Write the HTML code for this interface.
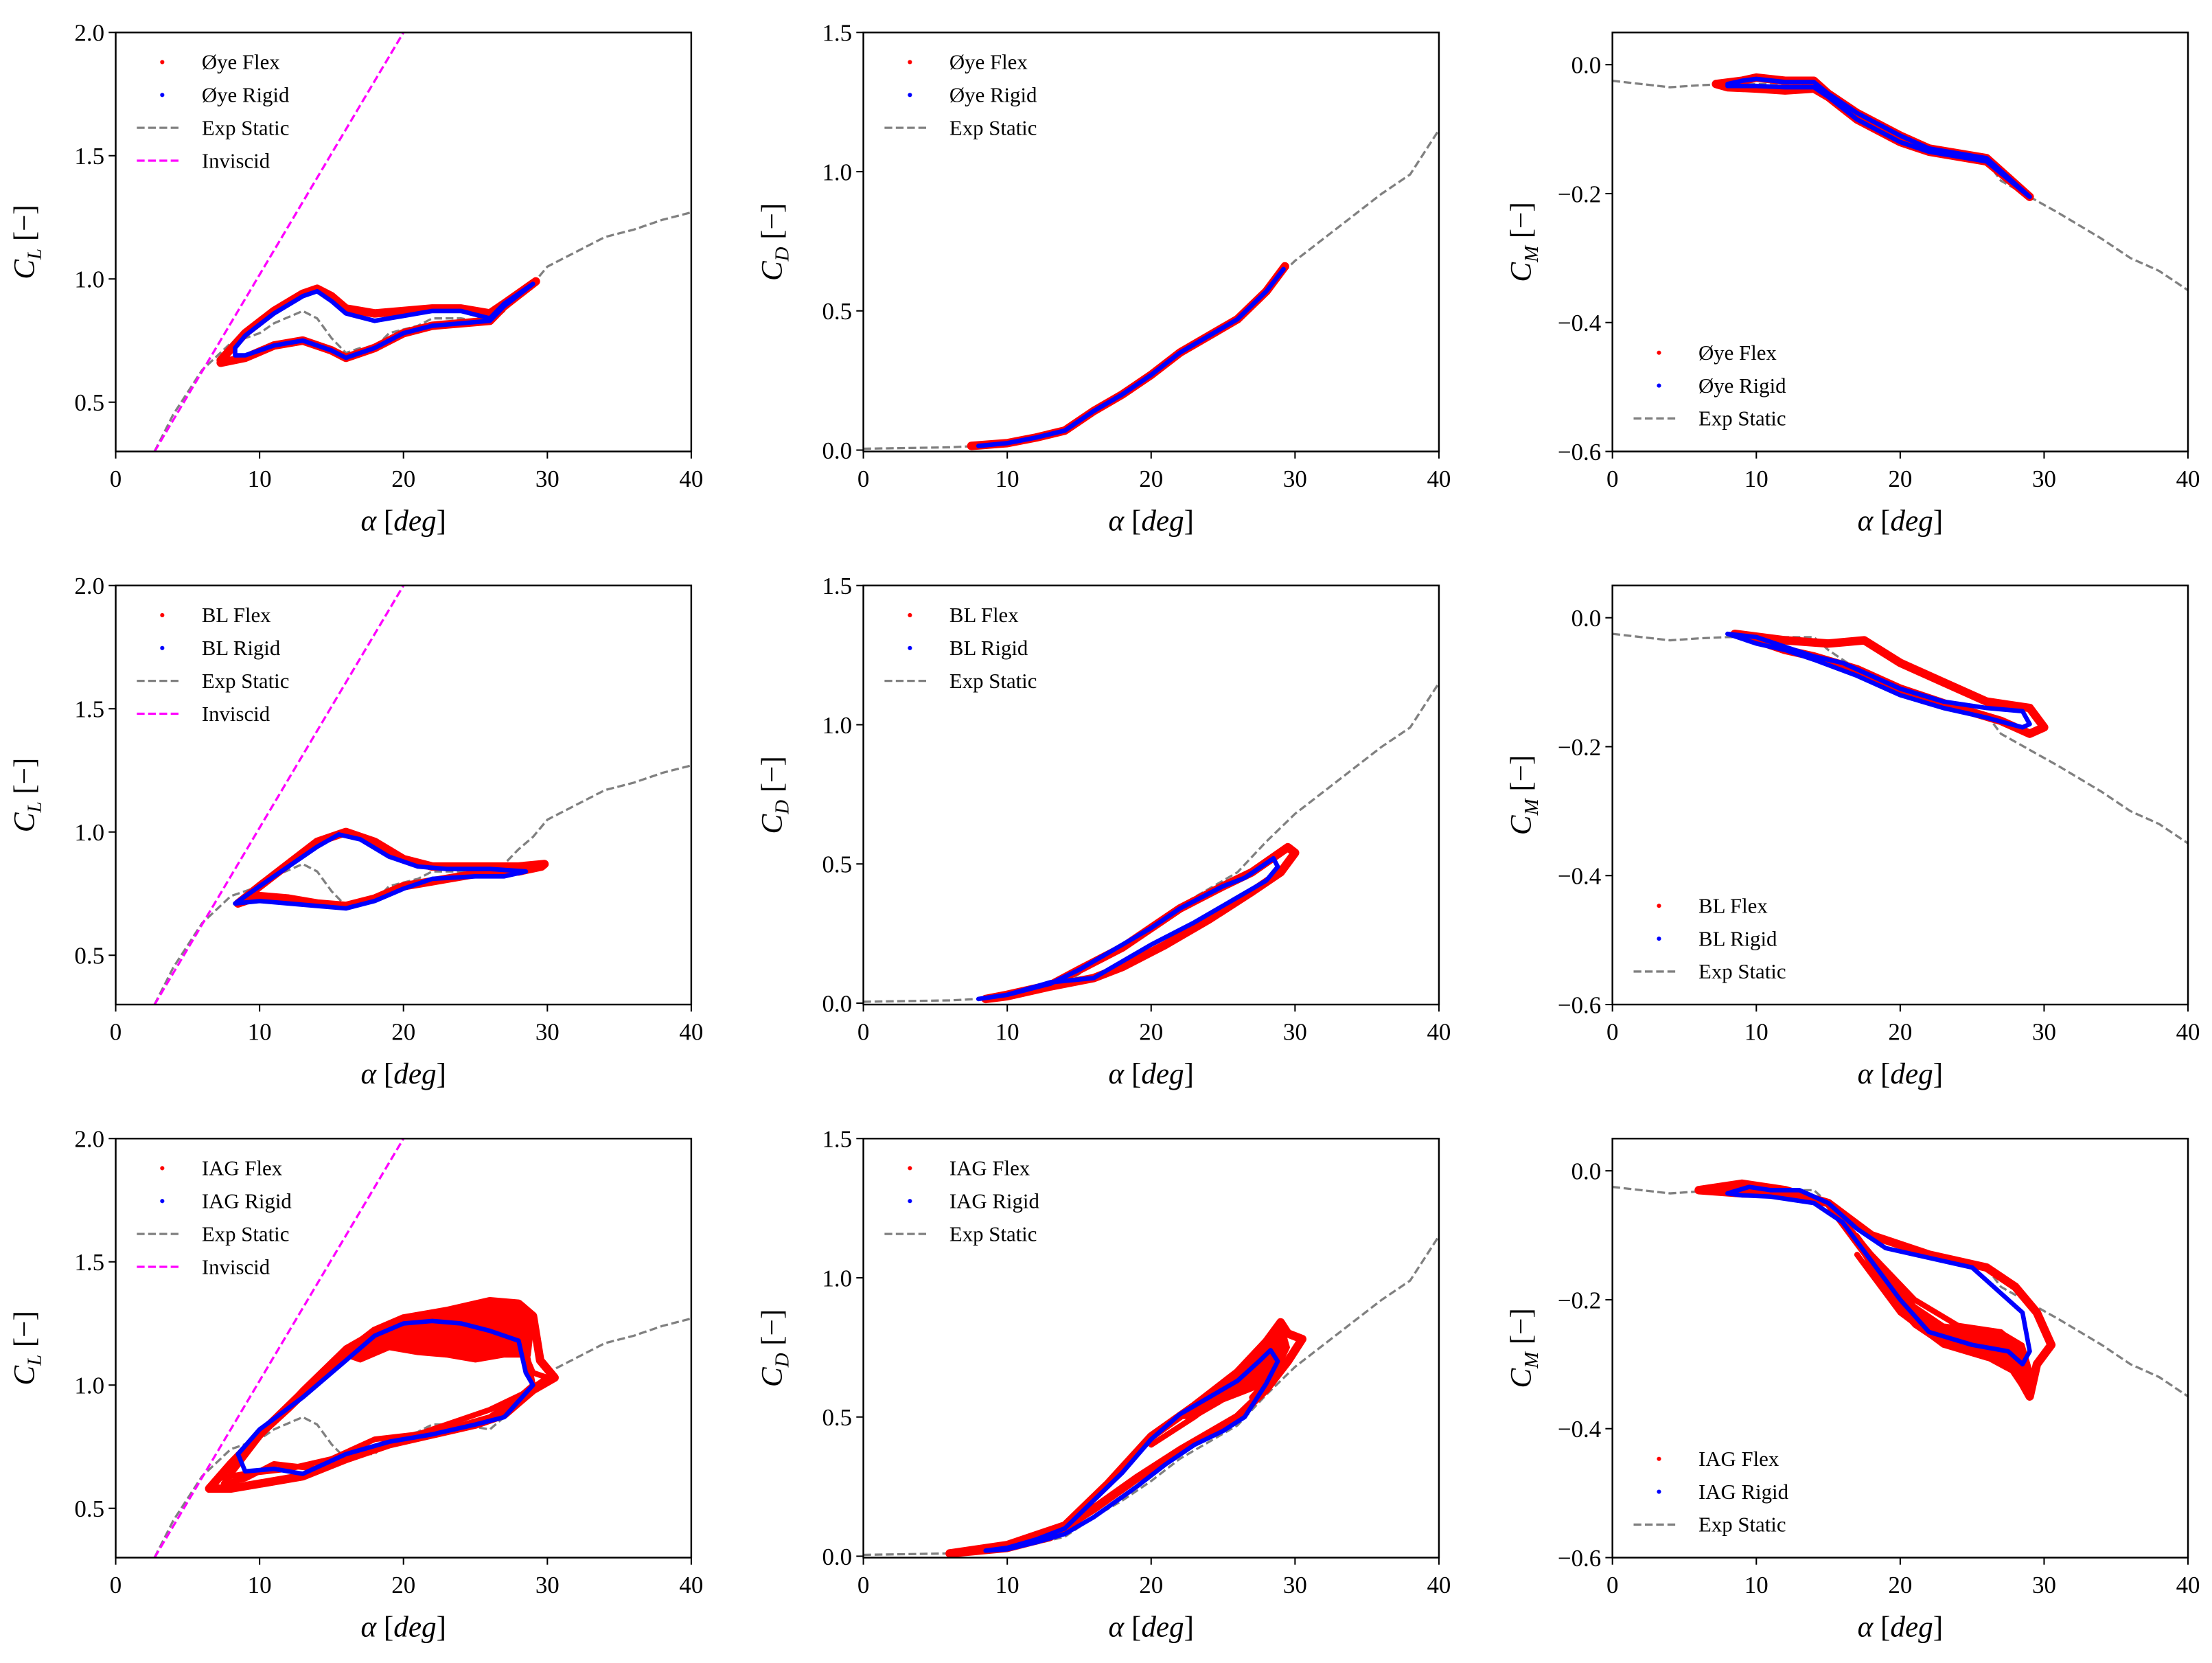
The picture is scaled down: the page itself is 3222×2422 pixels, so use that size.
<!DOCTYPE html>
<html><head><meta charset="utf-8"><style>
html,body{margin:0;padding:0;background:#fff;}
svg{display:block;}
text{font-family:"Liberation Serif","DejaVu Serif",serif;fill:#000;}
</style></head><body>
<svg id="fig" width="3222" height="2422" viewBox="0 0 1568 1178.7" xmlns="http://www.w3.org/2000/svg"></svg>
<script>
// ---- data (alpha deg, coefficient) ----
const staticCL=[[2.7,0.3],[4,0.45],[6,0.63],[8,0.74],[10,0.78],[11,0.82],[13,0.87],[14,0.84],[15,0.76],[16,0.7],[17,0.72],[18,0.72],[19,0.78],[21,0.81],[22,0.84],[24,0.84],[26,0.82],[27,0.87],[28,0.93],[29,0.98],[30,1.05],[32,1.11],[34,1.17],[36,1.2],[38,1.24],[40,1.27]];
const invCL=[[2.7,0.3],[20,2.0]];
const staticCD=[[0,0.005],[6,0.01],[8,0.015],[10,0.025],[12,0.045],[14,0.07],[16,0.14],[18,0.2],[20,0.27],[22,0.35],[24,0.41],[26,0.47],[28,0.58],[30,0.68],[32,0.76],[34,0.84],[36,0.92],[38,0.99],[40,1.15]];
const staticCM=[[0,-0.025],[2,-0.03],[4,-0.035],[6,-0.032],[8,-0.03],[10,-0.03],[12,-0.03],[14,-0.03],[15,-0.05],[17,-0.08],[18,-0.1],[20,-0.115],[22,-0.13],[24,-0.14],[26,-0.15],[27,-0.18],[29,-0.205],[31,-0.23],[34,-0.27],[36,-0.3],[38,-0.32],[40,-0.35]];

const oyeCLflex=[[7.3,0.67],[9,0.78],[11,0.87],[13,0.94],[14,0.96],[15,0.93],[16,0.88],[18,0.86],[20,0.87],[22,0.88],[24,0.88],[26,0.86],[27,0.9],[29.2,0.99],[27,0.89],[26,0.83],[24,0.82],[22,0.81],[20,0.78],[18,0.72],[16,0.68],[15,0.71],[13,0.75],[11,0.73],[9,0.68],[7.3,0.66]];
const oyeCLrigid=[[8.3,0.72],[9,0.77],[11,0.86],[13,0.93],[14,0.95],[15,0.91],[16,0.86],[18,0.83],[20,0.85],[22,0.87],[24,0.87],[26,0.84],[27,0.9],[29,0.98],[27,0.89],[26,0.83],[24,0.82],[22,0.81],[20,0.78],[18,0.72],[16,0.68],[15,0.71],[13,0.75],[11,0.73],[9,0.69],[8.3,0.69],[8.3,0.72]];
const oyeCDflex=[[7.5,0.015],[10,0.025],[12,0.045],[14,0.07],[16,0.14],[18,0.2],[20,0.27],[22,0.35],[24,0.41],[26,0.47],[28,0.57],[29.3,0.66]];
const oyeCDrigid=[[8,0.015],[10,0.025],[12,0.045],[14,0.07],[16,0.14],[18,0.2],[20,0.27],[22,0.35],[24,0.41],[26,0.47],[28,0.57],[29.2,0.65]];
const oyeCMflex=[[7.2,-0.03],[9,-0.025],[10,-0.02],[12,-0.025],[14,-0.025],[15,-0.045],[17,-0.075],[20,-0.11],[22,-0.13],[26,-0.145],[29,-0.205],[26,-0.15],[22,-0.135],[20,-0.12],[17,-0.085],[15,-0.05],[14,-0.037],[12,-0.04],[10,-0.037],[8,-0.035],[7.2,-0.03]];
const oyeCMrigid=[[8,-0.03],[9,-0.025],[10,-0.022],[12,-0.027],[14,-0.027],[15,-0.045],[17,-0.075],[20,-0.11],[22,-0.13],[26,-0.145],[29,-0.205],[26,-0.15],[22,-0.135],[20,-0.12],[17,-0.085],[15,-0.05],[14,-0.035],[12,-0.035],[10,-0.033],[8,-0.033]];

const blCLflex=[[8.5,0.71],[10,0.78],[12,0.87],[14,0.96],[16,1.0],[18,0.96],[20,0.89],[22,0.86],[25,0.86],[28,0.86],[29.8,0.87],[29.6,0.86],[28,0.84],[26,0.84],[23,0.81],[20,0.78],[18,0.73],[16,0.7],[14,0.71],[12,0.73],[10,0.74],[8.5,0.71]];
const blCLrigid=[[8.3,0.71],[10,0.78],[12,0.86],[14,0.94],[15.5,0.99],[17,0.97],[19,0.9],[21,0.86],[23,0.85],[26,0.85],[28.5,0.84],[27,0.82],[25,0.82],[22,0.81],[20,0.77],[18,0.72],[16,0.69],[14,0.7],[12,0.71],[10,0.72],[8.3,0.71]];
const blCDflex=[[8.5,0.015],[10,0.03],[13,0.065],[15,0.12],[18,0.2],[20,0.27],[22,0.34],[25,0.42],[27,0.47],[29.5,0.56],[30,0.54],[29,0.47],[27,0.4],[24,0.3],[21,0.21],[18,0.13],[16,0.09],[13,0.06],[10,0.025],[8.5,0.015]];
const blCDrigid=[[8,0.015],[10,0.03],[13,0.07],[15,0.12],[18,0.21],[20,0.27],[22,0.34],[25,0.42],[26.5,0.45],[28.5,0.52],[28.8,0.49],[28,0.44],[26,0.38],[23,0.29],[20,0.21],[17,0.12],[16,0.09],[13,0.075],[10,0.03],[8,0.015]];
const blCMflex=[[8.5,-0.025],[12,-0.035],[15,-0.04],[17.5,-0.035],[20,-0.07],[23,-0.1],[26,-0.13],[29,-0.14],[30,-0.17],[29,-0.18],[27,-0.16],[24,-0.14],[20,-0.11],[17,-0.08],[14,-0.06],[12,-0.05],[10,-0.035],[8.5,-0.025]];
const blCMrigid=[[8,-0.025],[10,-0.03],[12,-0.045],[14,-0.06],[16,-0.07],[18,-0.09],[20,-0.11],[23,-0.13],[26,-0.14],[28.5,-0.145],[29,-0.165],[28.5,-0.17],[26,-0.155],[23,-0.14],[20,-0.12],[17,-0.09],[14,-0.065],[12,-0.05],[10,-0.04],[8,-0.025]];

const iagCLflex1=[[6.5,0.58],[8,0.68],[10,0.8],[13,0.97],[16,1.13],[18,1.22],[20,1.27],[23,1.3],[26,1.34],[28,1.33],[29,1.28],[29.5,1.1],[30.5,1.03],[29,0.98],[27,0.88],[25,0.84],[22,0.8],[19,0.76],[16,0.7],[13,0.63],[10,0.6],[8,0.58],[6.5,0.58]];
const iagCLflex2=[[7,0.62],[9,0.74],[12,0.9],[15,1.07],[18,1.18],[21,1.22],[24,1.2],[27,1.17],[28.5,1.12],[29,1.05],[30,1.03],[28.5,0.97],[26,0.9],[24,0.86],[21,0.8],[18,0.78],[15,0.7],[12,0.66],[9,0.64],[7,0.62]];
const iagCLflex3=[[7.5,0.6],[10,0.79],[13,0.98],[16,1.15],[19,1.25],[22,1.28],[25,1.3],[27.5,1.28],[28.5,1.15],[29,1.0],[28,0.95],[26,0.87],[23,0.82],[20,0.79],[17,0.73],[14,0.66],[11,0.68],[9,0.62],[7.5,0.6]];
const iagCLband=[[16,1.12],[18,1.21],[20,1.26],[23,1.29],[26,1.33],[28,1.33],[29,1.27],[28.7,1.12],[27,1.12],[25,1.1],[23,1.12],[21,1.13],[19,1.15],[17,1.1]];
const iagCLrigid=[[8.5,0.72],[10,0.82],[13,0.95],[16,1.1],[18,1.2],[20,1.25],[22,1.26],[24,1.25],[26,1.22],[28,1.18],[28.5,1.05],[29,1.0],[27,0.87],[25,0.84],[22,0.8],[19,0.77],[16,0.72],[13,0.64],[11,0.66],[9,0.65],[8.5,0.72]];
const iagCDflex1=[[6,0.01],[10,0.04],[14,0.11],[17,0.26],[20,0.43],[23,0.54],[26,0.66],[28,0.77],[29,0.84],[29.5,0.8],[30.5,0.78],[29.5,0.7],[28,0.6],[26,0.5],[24,0.44],[22,0.38],[19,0.28],[16,0.17],[13,0.07],[10,0.03],[6,0.01]];
const iagCDflex2=[[20,0.4],[23,0.5],[26,0.62],[27.5,0.72],[28.5,0.8],[29,0.7],[28,0.63],[27,0.57]];
const iagCDband=[[22,0.5],[26,0.64],[28,0.76],[29,0.84],[29.5,0.75],[28.5,0.64],[27,0.6],[25,0.56],[23,0.5]];
const iagCDrigid=[[8.5,0.02],[10,0.03],[12,0.06],[14,0.1],[16,0.2],[18,0.3],[20,0.42],[22,0.51],[24,0.57],[26,0.63],[27.5,0.7],[28.3,0.74],[28.8,0.7],[28,0.62],[26.5,0.5],[25,0.45],[23,0.4],[21,0.33],[19,0.25],[16,0.14],[14,0.08],[12,0.05],[10,0.025],[8.5,0.02]];
const iagCMflex1=[[6,-0.03],[9,-0.02],[12,-0.03],[15,-0.05],[17,-0.11],[19,-0.17],[21,-0.23],[23,-0.26],[25,-0.27],[27,-0.28],[28.5,-0.33],[29,-0.35],[29.5,-0.3],[30.5,-0.27],[29.5,-0.22],[28,-0.18],[26,-0.15],[22,-0.13],[18,-0.1],[15,-0.05],[12,-0.035],[9,-0.035],[6,-0.03]];
const iagCMflex2=[[15,-0.05],[18,-0.13],[21,-0.2],[24,-0.24],[27,-0.25],[28.5,-0.28],[29,-0.33],[28,-0.3],[26,-0.29],[23,-0.27],[20,-0.22],[17,-0.13]];
const iagCMband=[[17,-0.1],[19,-0.16],[21,-0.21],[23,-0.24],[27,-0.25],[28.5,-0.27],[29.3,-0.33],[28.5,-0.32],[26,-0.29],[23,-0.27],[21,-0.24],[19,-0.19],[17.5,-0.13]];
const iagCMrigid=[[8,-0.035],[9.5,-0.025],[11,-0.03],[13,-0.03],[15,-0.05],[17,-0.09],[19,-0.12],[22,-0.135],[25,-0.15],[27,-0.19],[28.5,-0.22],[29,-0.28],[28.5,-0.3],[27.5,-0.28],[25,-0.27],[22,-0.25],[20,-0.2],[18,-0.14],[16,-0.08],[14,-0.05],[11,-0.04],[9,-0.038],[8,-0.035]];

const xTicks=[0,10,20,30,40];
const clTicks=[0.5,1.0,1.5,2.0], clTickLabels=["0.5","1.0","1.5","2.0"];
const cdTicks=[0,0.5,1.0,1.5], cdTickLabels=["0.0","0.5","1.0","1.5"];
const cmTicks=[0,-0.2,-0.4,-0.6], cmTickLabels=["0.0","\u22120.2","\u22120.4","\u22120.6"];
const models=["Øye","BL","IAG"];

const NS="http://www.w3.org/2000/svg";
const svg=document.getElementById('fig');
function el(tag,attrs,parent){const e=document.createElementNS(NS,tag);for(const k in attrs)e.setAttribute(k,attrs[k]);(parent||svg).appendChild(e);return e;}

const colX=[82,612,1143], rowY=[23,415,807], W=408, H=297;
const ranges=[{y0:0.3,y1:2.0,ticks:clTicks,labs:clTickLabels,sub:"L"},{y0:-0.005,y1:1.5,ticks:cdTicks,labs:cdTickLabels,sub:"D"},{y0:-0.6,y1:0.05,ticks:cmTicks,labs:cmTickLabels,sub:"M"}];
const dataSets=[
 [[oyeCLflex],[oyeCLrigid],[]],[[oyeCDflex],[oyeCDrigid],[]],[[oyeCMflex],[oyeCMrigid],[]],
 [[blCLflex],[blCLrigid],[]],[[blCDflex],[blCDrigid],[]],[[blCMflex],[blCMrigid],[]],
 [[iagCLflex1,iagCLflex2,iagCLflex3],[iagCLrigid],[iagCLband]],[[iagCDflex1,iagCDflex2],[iagCDrigid],[iagCDband]],[[iagCMflex1,iagCMflex2],[iagCMrigid],[iagCMband]]];
const statics=[staticCL,staticCD,staticCM];

for(let r=0;r<3;r++)for(let c=0;c<3;c++){
  const x0=colX[c],y0=rowY[r],R=ranges[c];
  const sx=a=>x0+a/40*W;
  const sy=v=>y0+H-(v-R.y0)/(R.y1-R.y0)*H;
  const g=el('g',{});
  
  
  const clipId='clip'+r+c;
  const cp=el('clipPath',{id:clipId},g);el('rect',{x:x0,y:y0,width:W,height:H},cp);
  const plot=el('g',{'clip-path':'url(#'+clipId+')'},g);
  const pts=arr=>arr.map(p=>sx(p[0]).toFixed(2)+','+sy(p[1]).toFixed(2)).join(' ');
  const st=el('polyline',{points:pts(statics[c]),fill:'none',stroke:'#808080','stroke-width':1.6,'stroke-dasharray':'5.5,2.5'},plot);
  
  
  if(c===0){const iv=el('polyline',{points:pts(invCL),fill:'none',stroke:'#ff00ff','stroke-width':1.6,'stroke-dasharray':'5.5,2.5'},plot);
    
    }
  const ds=dataSets[r*3+c];
  ds[2].forEach(arr=>{const p=el('polygon',{points:pts(arr),fill:'#ff0000',stroke:'#ff0000','stroke-width':3,'stroke-linejoin':'round'},plot);
    
    });
  ds[0].forEach((arr,i)=>{const p=el('polyline',{points:pts(arr),fill:'none',stroke:'#ff0000','stroke-width':i===0?6:4,'stroke-linejoin':'round','stroke-linecap':'round'},plot);
    
    });
  ds[1].forEach(arr=>{const p=el('polyline',{points:pts(arr),fill:'none',stroke:'#0000ff','stroke-width':3.2,'stroke-linejoin':'round','stroke-linecap':'round'},plot);
    
    });
  el('rect',{x:x0,y:y0,width:W,height:H,fill:'none',stroke:'#000','stroke-width':1.2},g);
  xTicks.forEach(t=>{el('line',{x1:sx(t),x2:sx(t),y1:y0+H,y2:y0+H+5,stroke:'#000','stroke-width':1},g);
    const tx=el('text',{x:sx(t),y:y0+H+25,'text-anchor':'middle','font-size':17},g);tx.textContent=t;
    
    });
  R.ticks.forEach((t,i)=>{el('line',{x1:x0-5,x2:x0,y1:sy(t),y2:sy(t),stroke:'#000','stroke-width':1},g);
    const ty=el('text',{x:x0-8,y:sy(t)+6,'text-anchor':'end','font-size':17},g);ty.textContent=R.labs[i];
    
    });
  const xl=el('text',{x:x0+W/2,y:y0+H+56,'text-anchor':'middle','font-size':21},g);
  xl.innerHTML='<tspan font-style="italic">α</tspan> [<tspan font-style="italic">deg</tspan>]';
  
  
  const ylx=x0-58, yly=y0+H/2;
  const yl=el('text',{x:ylx,y:yly,'text-anchor':'middle','font-size':21,transform:'rotate(-90 '+ylx+' '+yly+')'},g);
  yl.innerHTML='<tspan font-style="italic">C</tspan><tspan font-style="italic" font-size="14" dy="5">'+R.sub+'</tspan><tspan dy="-5"> [−]</tspan>';
  
  
  const m=models[r];
  const entries=[[m+' Flex','dotr'],[m+' Rigid','dotb'],['Exp Static','gray']];
  if(c===0)entries.push(['Inviscid','mag']);
  const ly0=(c===2)?y0+227:y0+21, lx=x0+15;
  const leg=el('g',{},g);
  
  
  entries.forEach((e,i)=>{const yy=ly0+i*23.3;
    if(e[1]==='dotr'||e[1]==='dotb')el('circle',{cx:lx+18,cy:yy,r:1.5,fill:e[1]==='dotr'?'#ff0000':'#0000ff'},leg);
    else el('line',{x1:lx,x2:lx+32,y1:yy,y2:yy,stroke:e[1]==='gray'?'#808080':'#ff00ff','stroke-width':1.6,'stroke-dasharray':'5.5,2.5'},leg);
    const t=el('text',{x:lx+46,y:yy+5,'font-size':15},leg);t.textContent=e[0];
    
    });
}
</script>
</body></html>
